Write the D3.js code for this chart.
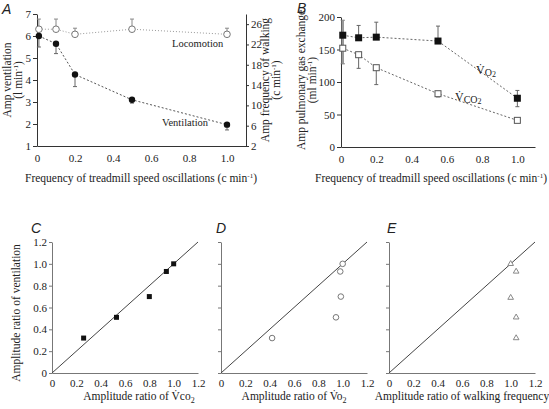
<!DOCTYPE html>
<html><head><meta charset="utf-8">
<script src="https://cdn.jsdelivr.net/npm/d3@7"></script>
<style>body{margin:0;background:#fff}svg{display:block}</style>
</head><body><svg id="c" width="549" height="409" font-family="Liberation Serif, Tinos, Times New Roman, DejaVu Serif, serif"></svg>
<script>
// Panel A
const freqA = [0.01, 0.1, 0.2, 0.5, 1.0];
const ventilation = [6.0, 5.65, 4.25, 3.1, 1.97];
const ventLow = [5.5, 5.2, 3.7, 2.95, 1.73];
const locomotion = [25, 25, 24, 25, 24];
const locoHigh = [27, 27, 25.2, 27, 25.2];
const ticksA = [0, 0.2, 0.4, 0.6, 0.8, 1.0];
const ticksALeft = [1, 2, 3, 4, 5, 6, 7];
const ticksARight = [2, 6, 10, 14, 18, 22, 26];
// Panel B
const freqB = [0.01, 0.1, 0.2, 0.55, 1.0];
const vo2 = [172, 168, 169, 163, 75];
const vo2High = [195, 187, 192, 186, 87];
const vo2Low = [172, 168, 169, 163, 62];
const vco2 = [152, 142, 122, 82, 41];
const vco2Low = [128, 121, 96, 77, 41];
const ticksBLeft = [0, 50, 100, 150, 200];
// Panels C, D, E
const ventRatio = [0.32, 0.51, 0.70, 0.93, 1.0];
const vco2Ratio = [0.26, 0.53, 0.80, 0.94, 1.0];
const vo2Ratio = [0.42, 0.945, 0.985, 0.98, 1.0];
const ventRatioD = [0.32, 0.51, 0.70, 0.93, 1.0];
const walkRatio = [1.045, 1.045, 1.0, 1.045, 1.0];
const ventRatioE = [0.32, 0.51, 0.69, 0.93, 1.0];
const ticksRatio = [0, 0.2, 0.4, 0.6, 0.8, 1.0, 1.2];

const SERIF = "Liberation Serif, Tinos, Times New Roman, DejaVu Serif, serif";
const svg = d3.select("#c");
const fmt = d => d === 0 ? "0" : d.toFixed(1);
const fmtInt = d => String(d);
const FS = 11;

function styleAxis(g, col) {
  g.attr("font-family", SERIF);
  g.selectAll("path,line").attr("stroke", col);
  g.selectAll("text").attr("font-size", FS).attr("fill", "#222").attr("font-family", SERIF);
}
function label(x, y, txt, opts = {}) {
  const t = svg.append("text").attr("x", x).attr("y", y).attr("font-size", opts.fs || FS)
    .attr("text-anchor", opts.anchor || "start").attr("fill", "#222")
    .attr("font-family", opts.italic ? "Liberation Sans, Arial, sans-serif" : SERIF);
  if (opts.rot) t.attr("transform", `rotate(-90,${x},${y})`);
  if (opts.italic) t.attr("font-style", "italic");
  t.text(txt);
  return t;
}
function perMin(t) {
  t.append("tspan").attr("font-size", 7).attr("dy", -4).text("-1");
  t.append("tspan").attr("dy", 4).text(")");
}

// ---------- Panel A ----------
{
  const x = d3.scaleLinear([0, 1.1], [37, 246]);
  const yL = d3.scaleLinear([1, 7], [146, 14]);
  const yR = d3.scaleLinear([2, 28], [146, 14]);
  const gx = svg.append("g").attr("transform", "translate(0,146)")
    .call(d3.axisBottom(x).tickValues(ticksA).tickFormat(fmt).tickSize(0).tickPadding(8));
  styleAxis(gx, "#333");
  const gl = svg.append("g").attr("transform", "translate(37,0)")
    .call(d3.axisLeft(yL).tickValues(ticksALeft).tickFormat(fmtInt).tickSize(4).tickPadding(2).tickSizeOuter(0));
  styleAxis(gl, "#333");
  const gr = svg.append("g").attr("transform", "translate(246,0)")
    .call(d3.axisRight(yR).tickValues(ticksARight).tickFormat(fmtInt).tickSize(3).tickPadding(2).tickSizeOuter(0));
  styleAxis(gr, "#333");

  svg.append("path").datum(freqA.map((f, i) => [f, locomotion[i]]))
    .attr("d", d3.line(d => x(d[0]), d => yR(d[1]))).attr("fill", "none")
    .attr("stroke", "#999").attr("stroke-dasharray", "1,2");
  freqA.forEach((f, i) => {
    svg.append("line").attr("x1", x(f)).attr("x2", x(f)).attr("y1", yR(locomotion[i])).attr("y2", yR(locoHigh[i])).attr("stroke", "#888");
    svg.append("line").attr("x1", x(f) - 2).attr("x2", x(f) + 2).attr("y1", yR(locoHigh[i])).attr("y2", yR(locoHigh[i])).attr("stroke", "#888");
  });
  svg.append("path").datum(freqA.map((f, i) => [f, ventilation[i]]))
    .attr("d", d3.line(d => x(d[0]), d => yL(d[1]))).attr("fill", "none")
    .attr("stroke", "#555").attr("stroke-dasharray", "2,2");
  freqA.forEach((f, i) => {
    svg.append("line").attr("x1", x(f)).attr("x2", x(f)).attr("y1", yL(ventilation[i])).attr("y2", yL(ventLow[i])).attr("stroke", "#666");
    svg.append("line").attr("x1", x(f) - 2).attr("x2", x(f) + 2).attr("y1", yL(ventLow[i])).attr("y2", yL(ventLow[i])).attr("stroke", "#666");
  });
  svg.append("g").selectAll("circle").data(freqA).join("circle").attr("cx", d => x(d)).attr("cy", (d, i) => yR(locomotion[i]))
    .attr("r", 3.3).attr("fill", "#fff").attr("stroke", "#777");
  svg.append("g").selectAll("circle").data(freqA).join("circle").attr("cx", d => x(d)).attr("cy", (d, i) => yL(ventilation[i]))
    .attr("r", 3.2).attr("fill", "#111");

  label(172, 47, "Locomotion", { fs: 10.5 });
  label(162, 126, "Ventilation", { fs: 10.5 });
  perMin(label(141, 182, "Frequency of treadmill speed oscillations (c min", { anchor: "middle", fs: 11.5 }));
  label(2, 14, "A", { italic: true, fs: 14 });
  label(11, 80, "Amp ventilation", { rot: true, anchor: "middle", fs: 11.5 });
  perMin(label(22, 80, "(l min", { rot: true, anchor: "middle", fs: 11.5 }));
  label(269, 80, "Amp frequency of walking", { rot: true, anchor: "middle", fs: 11.5 });
  perMin(label(280, 80, "(c min", { rot: true, anchor: "middle", fs: 11.5 }));
}

// ---------- Panel B ----------
{
  const x = d3.scaleLinear([0, 1.1], [341, 535]);
  const y = d3.scaleLinear([0, 200], [147, 17]);
  const gx = svg.append("g").attr("transform", "translate(0,147)")
    .call(d3.axisBottom(x).tickValues(ticksA).tickFormat(fmt).tickSize(0).tickPadding(8));
  styleAxis(gx, "#333");
  const gl = svg.append("g").attr("transform", "translate(341,0)")
    .call(d3.axisLeft(y).tickValues(ticksBLeft).tickFormat(fmtInt).tickSize(4).tickPadding(2).tickSizeOuter(0));
  styleAxis(gl, "#333");

  [vo2, vco2].forEach(series => {
    svg.append("path").datum(freqB.map((f, i) => [f, series[i]]))
      .attr("d", d3.line(d => x(d[0]), d => y(d[1]))).attr("fill", "none")
      .attr("stroke", "#666").attr("stroke-dasharray", "2,2");
  });
  freqB.forEach((f, i) => {
    svg.append("line").attr("x1", x(f)).attr("x2", x(f)).attr("y1", y(vo2Low[i])).attr("y2", y(vo2High[i])).attr("stroke", "#666");
    svg.append("line").attr("x1", x(f) - 2).attr("x2", x(f) + 2).attr("y1", y(vo2High[i])).attr("y2", y(vo2High[i])).attr("stroke", "#666");
    if (vo2Low[i] < vo2[i]) svg.append("line").attr("x1", x(f) - 2).attr("x2", x(f) + 2).attr("y1", y(vo2Low[i])).attr("y2", y(vo2Low[i])).attr("stroke", "#666");
    if (vco2Low[i] < vco2[i]) {
      svg.append("line").attr("x1", x(f)).attr("x2", x(f)).attr("y1", y(vco2[i])).attr("y2", y(vco2Low[i])).attr("stroke", "#666");
      svg.append("line").attr("x1", x(f) - 2).attr("x2", x(f) + 2).attr("y1", y(vco2Low[i])).attr("y2", y(vco2Low[i])).attr("stroke", "#666");
    }
  });
  svg.append("line").attr("x1", x(freqB[0])).attr("x2", x(freqB[0])).attr("y1", y(vco2Low[0])).attr("y2", y(vo2High[0])).attr("stroke", "#999").attr("stroke-width", 2.5);
  svg.append("g").selectAll("rect").data(freqB).join("rect").attr("x", d => x(d) - 3).attr("y", (d, i) => y(vco2[i]) - 3)
    .attr("width", 6).attr("height", 6).attr("fill", "#fff").attr("stroke", "#555");
  svg.append("g").selectAll("rect").data(freqB).join("rect").attr("x", d => x(d) - 3.5).attr("y", (d, i) => y(vo2[i]) - 3.5)
    .attr("width", 7).attr("height", 7).attr("fill", "#111");

  const a = label(476, 74, "V\u0307", { fs: 12 });
  a.append("tspan").attr("font-size", 10).attr("dy", 2).text("O");
  a.append("tspan").attr("font-size", 8).attr("dy", 1).text("2");
  const b = label(455, 101, "V\u0307", { fs: 12 });
  b.append("tspan").attr("font-size", 10).attr("dy", 2).text("CO");
  b.append("tspan").attr("font-size", 8).attr("dy", 1).text("2");

  perMin(label(431, 182, "Frequency of treadmill speed oscillations (c min", { anchor: "middle", fs: 11.5 }));
  label(297, 13, "B", { italic: true, fs: 14 });
  label(305, 80, "Amp pulmonary gas exchange", { rot: true, anchor: "middle", fs: 11.5 });
  perMin(label(316, 80, "(ml min", { rot: true, anchor: "middle", fs: 11.5 }));
}

// ---------- Panels C, D, E ----------
function ratioPanel(x0, xs, ys, shape, letter, letterX, showY, title) {
  const x = d3.scaleLinear([0, 1.2], [x0, x0 + 146]);
  const y = d3.scaleLinear([0, 1.2], [373, 242]);
  const gx = svg.append("g").attr("transform", "translate(0,373)")
    .call(d3.axisBottom(x).tickValues(ticksRatio).tickFormat(fmt).tickSize(0).tickPadding(6));
  styleAxis(gx, "#777");
  const gy = svg.append("g").attr("transform", `translate(${x0},0)`)
    .call(d3.axisLeft(y).tickValues(ticksRatio).tickFormat(showY ? fmt : () => "").tickSize(3).tickPadding(2).tickSizeOuter(0));
  styleAxis(gy, "#777");
  svg.append("line").attr("x1", x(0)).attr("y1", y(0)).attr("x2", x(1.2)).attr("y2", y(1.2)).attr("stroke", "#444");
  const pts = xs.map((v, i) => [x(v), y(ys[i])]);
  if (shape === "square") {
    svg.append("g").selectAll("rect").data(pts).join("rect").attr("x", d => d[0] - 2.5).attr("y", d => d[1] - 2.5)
      .attr("width", 5).attr("height", 5).attr("fill", "#111");
  } else if (shape === "circle") {
    svg.append("g").selectAll("circle").data(pts).join("circle").attr("cx", d => d[0]).attr("cy", d => d[1])
      .attr("r", 2.8).attr("fill", "#fff").attr("stroke", "#777");
  } else {
    const tri = d3.symbol(d3.symbolTriangle, 14);
    svg.append("g").selectAll("path").data(pts).join("path").attr("transform", d => `translate(${d[0]},${d[1]})`)
      .attr("d", tri).attr("fill", "#fff").attr("stroke", "#888");
  }
  label(letterX, 233, letter, { italic: true, fs: 14 });
  const t = label(x0 + 73 + (title.dx || 0), 400, title.pre, { anchor: "middle", fs: 11.5 });
  if (title.sub) {
    t.append("tspan").text("V\u0307");
    t.append("tspan").text(title.sub);
    t.append("tspan").attr("font-size", 8).attr("dy", 3).text("2");
  }
}
ratioPanel(52, vco2Ratio, ventRatio, "square", "C", 31, true, { pre: "Amplitude ratio of ", sub: "co", dx: 14 });
ratioPanel(221, vo2Ratio, ventRatioD, "circle", "D", 216, false, { pre: "Amplitude ratio of ", sub: "o" });
ratioPanel(389, walkRatio, ventRatioE, "triangle", "E", 387, false, { pre: "Amplitude ratio of walking frequency" });
label(20, 313, "Amplitude ratio of ventilation", { rot: true, anchor: "middle", fs: 11.5 });
</script></body></html>
